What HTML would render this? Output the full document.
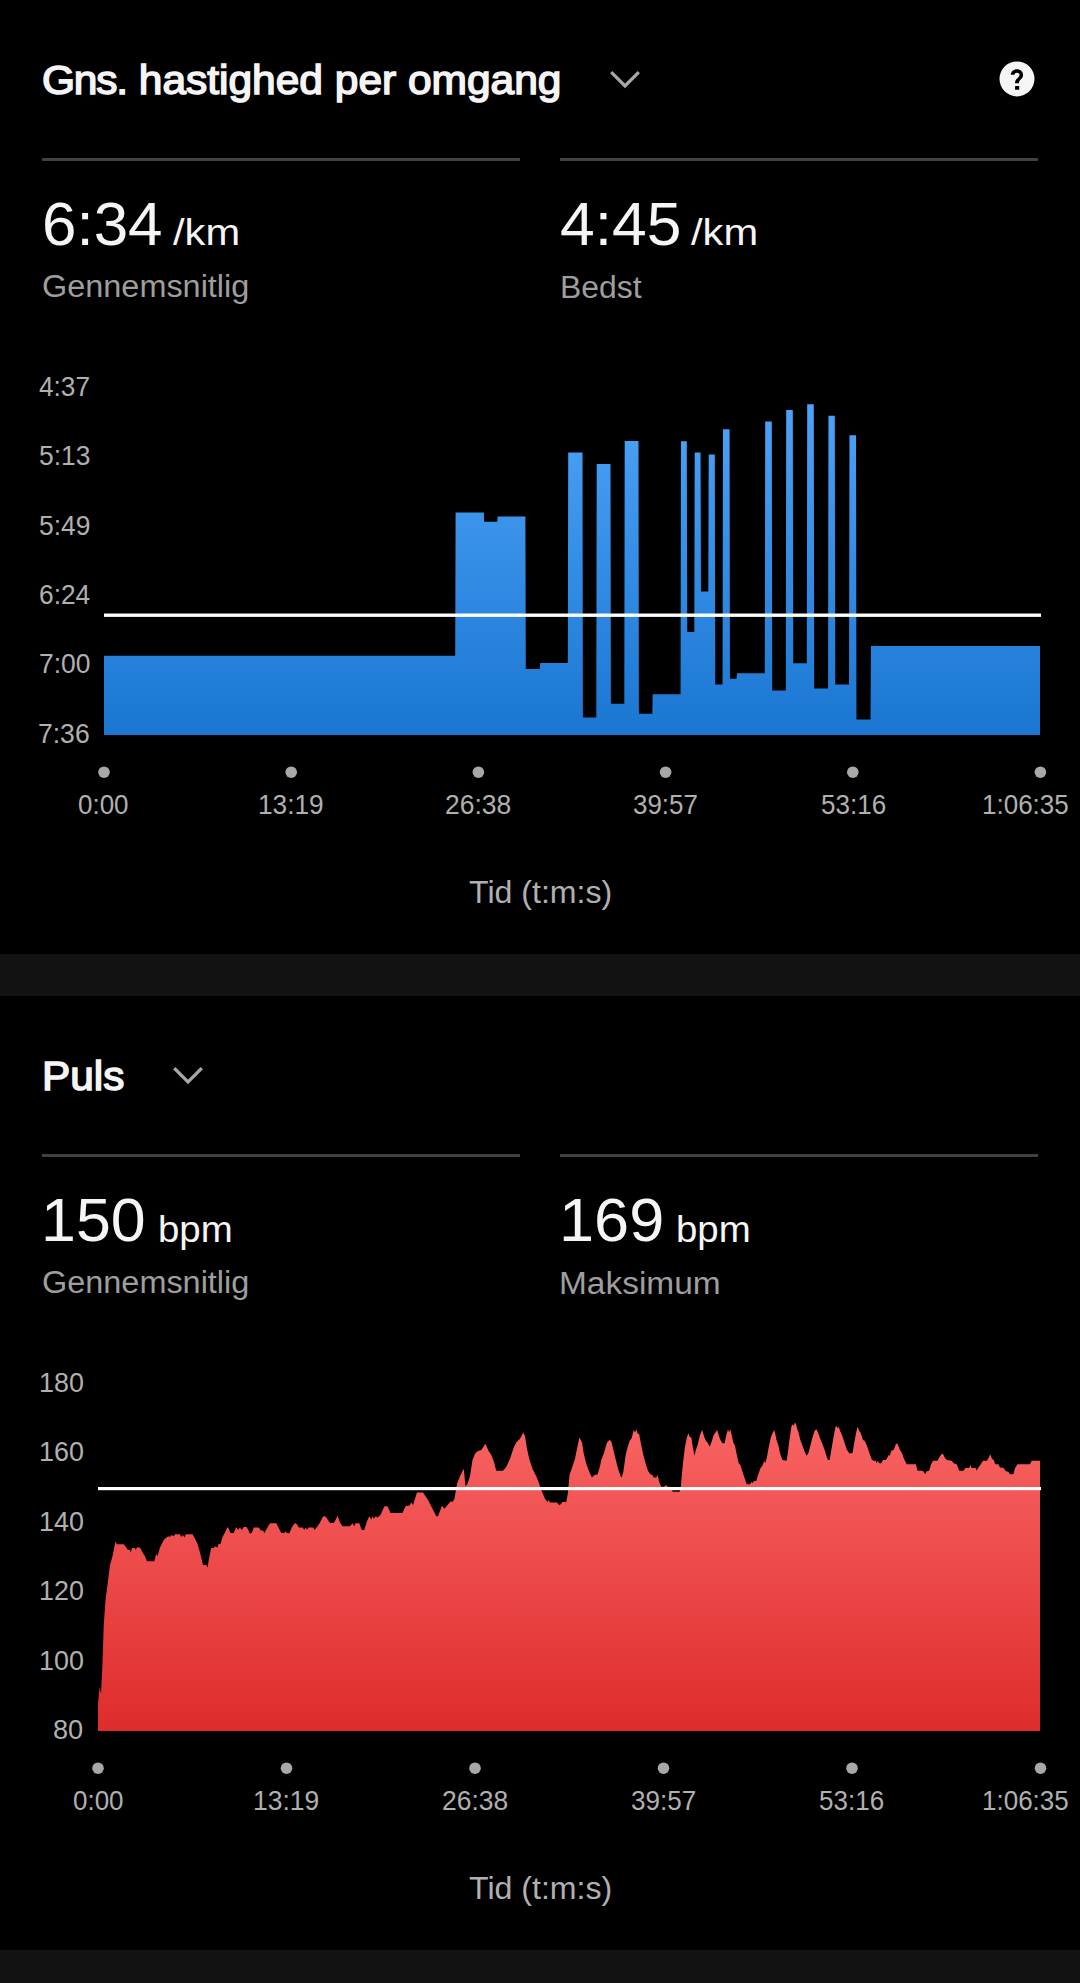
<!DOCTYPE html>
<html lang="da">
<head>
<meta charset="utf-8">
<title>Gns. hastighed per omgang / Puls</title>
<style>
html,body{margin:0;padding:0;background:#000;}
body{width:1080px;height:1983px;position:relative;overflow:hidden;font-family:"Liberation Sans",sans-serif;}
.tx{position:absolute;white-space:nowrap;transform-origin:0 50%;font-weight:400;}
.ttl{-webkit-text-stroke:1.5px #f5f5f5;}
.g{letter-spacing:-1.1px;}
.gap{position:absolute;left:0;width:1080px;background:#121212;}
.rule{position:absolute;height:3px;background:#424242;}
svg{position:absolute;left:0;top:0;}
</style>
</head>
<body>
<div class="gap" style="top:954px;height:42px"></div>
<div class="gap" style="top:1950px;height:33px"></div>
<div class="rule" style="left:42px;top:158px;width:478px"></div>
<div class="rule" style="left:560px;top:158px;width:478px"></div>
<div class="rule" style="left:42px;top:1154px;width:478px"></div>
<div class="rule" style="left:560px;top:1154px;width:478px"></div>
<svg width="1080" height="1983" viewBox="0 0 1080 1983">
<defs>
<linearGradient id="gb" gradientUnits="userSpaceOnUse" x1="0" y1="404" x2="0" y2="735"><stop offset="0" stop-color="#4da3f7"/><stop offset="1" stop-color="#1a76d2"/></linearGradient>
<linearGradient id="gr" gradientUnits="userSpaceOnUse" x1="0" y1="1420" x2="0" y2="1731"><stop offset="0" stop-color="#f96464"/><stop offset="1" stop-color="#df2c2c"/></linearGradient>
</defs>
<path d="M611.2 72.2 L625 86 L638.8 72.2" fill="none" stroke="#a8a8a8" stroke-width="3.2"/>
<path d="M174.2 1068.2 L188 1082 L201.8 1068.2" fill="none" stroke="#a8a8a8" stroke-width="3.2"/>
<g transform="translate(987 50) scale(0.055556)"><path fill="#f5f5f5" fill-rule="evenodd" d="M540 205 A315 315 0 1 0 540 835 A315 315 0 1 0 540 205 Z M430 445 C430 385 480 345 540 345 C605 345 650 390 650 450 C650 500 615 525 595 545 C580 560 575 575 575 600 L505 600 C505 560 515 540 540 515 C565 492 585 480 585 452 C585 425 565 410 540 410 C515 410 497 425 495 445 Z M505 650 H580 V715 H505 Z"/></g>
<path fill="url(#gb)" d="M104.00 735.00 L104.00 655.75 L455.20 655.75 L455.60 512.50 L483.80 512.50 L484.20 521.75 L497.30 521.75 L497.70 516.50 L525.40 516.50 L525.80 669.00 L539.80 669.00 L540.20 663.00 L567.80 663.00 L568.20 452.50 L582.50 452.50 L582.90 717.50 L596.30 717.50 L596.70 464.00 L610.50 464.00 L610.90 703.75 L624.30 703.75 L624.70 441.00 L638.50 441.00 L638.90 713.75 L652.30 713.75 L652.70 694.25 L680.55 694.25 L680.95 441.25 L686.80 441.25 L687.20 632.00 L694.30 632.00 L694.70 452.50 L700.55 452.50 L700.95 591.50 L708.30 591.50 L708.70 454.50 L714.80 454.50 L715.20 684.50 L722.55 684.50 L722.95 429.25 L729.55 429.25 L729.95 678.75 L736.55 678.75 L736.95 673.25 L764.80 673.25 L765.20 421.50 L771.80 421.50 L772.20 690.50 L785.80 690.50 L786.20 410.00 L792.80 410.00 L793.20 663.25 L806.80 663.25 L807.20 404.25 L813.80 404.25 L814.20 688.50 L828.05 688.50 L828.45 415.75 L834.80 415.75 L835.20 684.50 L849.05 684.50 L849.45 435.25 L856.05 435.25 L856.45 719.50 L870.55 719.50 L870.95 646.00 L1040.00 646.00 L1040.00 735.00Z"/>
<rect x="104" y="613.5" width="937" height="3.4" fill="#fff"/>
<g fill="#a8a8a8"><circle cx="104.0" cy="772.2" r="5.8"/><circle cx="291.2" cy="772.2" r="5.8"/><circle cx="478.4" cy="772.2" r="5.8"/><circle cx="665.6" cy="772.2" r="5.8"/><circle cx="852.8" cy="772.2" r="5.8"/><circle cx="1040.4" cy="772.2" r="5.8"/></g>
<path fill="url(#gr)" d="M98.00 1731.00 L98.00 1703.75 L99.50 1687.50 L101.00 1693.75 L102.50 1662.50 L103.75 1625.00 L105.50 1600.00 L107.50 1585.00 L110.00 1565.00 L112.50 1556.25 L115.00 1543.75 L115.75 1541.25 L116.75 1544.25 L123.75 1544.25 L126.25 1547.50 L128.00 1550.00 L130.00 1550.00 L130.75 1552.50 L132.00 1548.00 L135.00 1548.00 L135.75 1550.00 L136.75 1547.50 L140.00 1547.50 L142.50 1552.50 L145.00 1556.25 L147.00 1561.25 L154.25 1561.25 L156.25 1553.75 L157.50 1556.25 L160.00 1547.50 L163.75 1540.00 L166.25 1537.50 L168.75 1536.25 L170.00 1537.00 L171.25 1535.00 L173.75 1536.25 L175.00 1534.25 L180.00 1534.25 L181.25 1537.00 L183.00 1535.00 L184.50 1537.50 L185.75 1534.25 L192.50 1534.25 L195.00 1538.75 L197.50 1543.75 L200.00 1552.50 L203.00 1565.00 L206.25 1565.00 L207.50 1567.50 L208.75 1560.00 L211.25 1548.00 L213.75 1548.00 L215.00 1546.25 L217.50 1547.50 L218.75 1543.75 L220.50 1544.25 L222.50 1537.00 L225.00 1532.50 L227.50 1527.00 L228.75 1528.75 L230.50 1533.00 L233.75 1533.00 L236.25 1527.00 L238.00 1530.00 L240.00 1527.50 L241.75 1530.00 L243.75 1527.00 L246.75 1527.00 L250.00 1533.75 L252.00 1532.50 L253.75 1527.50 L258.75 1527.50 L260.75 1530.50 L263.25 1530.50 L264.25 1533.25 L267.50 1527.50 L270.00 1523.25 L276.25 1523.25 L278.75 1528.00 L281.25 1533.00 L284.50 1533.00 L285.75 1531.25 L287.00 1533.25 L289.25 1533.25 L292.50 1526.25 L295.00 1523.00 L297.00 1524.25 L298.75 1527.50 L302.50 1527.50 L304.50 1530.00 L305.50 1527.50 L307.00 1529.50 L308.75 1527.50 L313.25 1527.50 L314.50 1530.00 L317.50 1526.25 L320.00 1522.50 L322.50 1517.50 L324.25 1515.75 L326.25 1517.50 L330.00 1523.00 L333.75 1523.00 L335.50 1520.00 L337.50 1515.75 L340.00 1522.50 L342.50 1526.25 L349.50 1526.25 L350.00 1526.25 L352.50 1523.25 L354.25 1526.25 L355.50 1523.25 L359.25 1523.25 L361.75 1530.00 L364.25 1530.00 L367.00 1521.25 L369.25 1516.25 L371.25 1519.50 L372.50 1516.25 L373.75 1518.75 L375.75 1516.25 L377.50 1517.50 L380.50 1515.00 L384.50 1506.25 L387.50 1506.25 L390.50 1513.00 L402.50 1513.00 L405.50 1506.25 L409.50 1505.50 L411.25 1502.50 L413.00 1505.00 L417.00 1492.50 L423.00 1492.50 L428.00 1500.00 L432.50 1508.75 L436.25 1516.25 L438.00 1516.25 L442.00 1505.75 L444.50 1508.75 L447.50 1505.00 L450.75 1501.25 L452.50 1502.00 L454.50 1498.75 L457.00 1483.75 L460.00 1476.25 L463.00 1470.00 L463.75 1468.75 L465.50 1486.25 L467.50 1483.75 L470.00 1476.25 L472.50 1460.00 L475.00 1453.75 L477.50 1451.25 L481.25 1450.00 L485.50 1443.75 L488.75 1451.25 L491.25 1455.00 L493.75 1461.25 L496.25 1470.75 L503.00 1470.75 L506.25 1467.00 L510.00 1458.75 L513.75 1447.50 L516.25 1442.50 L520.00 1438.75 L523.25 1432.50 L525.00 1436.25 L527.00 1448.75 L529.50 1460.00 L532.50 1468.75 L536.25 1476.25 L538.75 1482.50 L541.25 1490.00 L545.00 1498.75 L547.50 1502.00 L548.75 1500.00 L550.00 1502.50 L557.00 1502.50 L559.50 1505.50 L562.50 1502.00 L566.25 1502.00 L568.00 1492.50 L569.50 1475.00 L572.50 1466.25 L575.00 1458.75 L578.00 1443.75 L579.50 1437.50 L582.00 1442.50 L583.75 1453.75 L586.25 1463.75 L589.50 1472.50 L592.00 1477.50 L594.50 1475.00 L597.50 1474.50 L600.00 1466.25 L601.25 1460.00 L603.75 1453.75 L607.00 1442.50 L609.50 1440.00 L610.00 1440.00 L611.67 1442.50 L614.17 1453.33 L617.50 1466.67 L620.33 1475.83 L621.67 1477.50 L623.33 1471.67 L625.83 1454.17 L627.50 1447.50 L629.67 1440.83 L631.67 1438.33 L633.67 1430.00 L635.00 1432.50 L636.33 1429.17 L637.50 1433.33 L639.17 1434.17 L640.83 1443.33 L643.33 1455.00 L645.83 1464.17 L648.00 1470.83 L650.33 1474.17 L652.50 1475.00 L653.67 1477.50 L656.33 1477.50 L657.50 1475.00 L659.17 1481.67 L661.17 1486.67 L664.17 1486.67 L665.83 1485.00 L667.50 1486.67 L671.67 1487.00 L672.50 1491.67 L679.67 1491.67 L680.83 1486.67 L682.00 1473.33 L683.33 1460.00 L685.00 1446.67 L686.67 1438.33 L688.33 1433.33 L689.67 1436.67 L691.33 1437.50 L692.83 1447.50 L694.50 1455.83 L695.83 1450.00 L697.83 1444.17 L700.00 1435.00 L702.17 1429.67 L704.17 1436.67 L705.83 1440.83 L707.50 1442.50 L709.67 1446.67 L711.67 1441.67 L713.67 1435.00 L715.00 1433.33 L717.17 1430.00 L719.17 1436.67 L720.83 1440.83 L722.50 1443.33 L724.67 1443.33 L726.33 1435.00 L728.00 1429.17 L729.17 1432.50 L730.33 1429.17 L731.67 1435.00 L733.33 1442.50 L735.00 1445.83 L736.67 1454.17 L738.67 1463.33 L740.33 1465.00 L742.50 1471.67 L744.67 1478.33 L746.67 1484.17 L750.00 1484.17 L751.67 1481.67 L752.50 1483.33 L753.67 1481.33 L756.33 1480.83 L757.50 1476.67 L759.17 1471.67 L760.83 1467.50 L762.50 1465.83 L764.17 1460.83 L765.33 1463.33 L767.00 1456.67 L768.67 1447.50 L770.83 1437.50 L772.50 1433.33 L774.17 1430.00 L775.33 1434.17 L776.67 1440.83 L778.33 1445.00 L780.00 1453.33 L782.50 1460.00 L786.67 1460.83 L788.00 1451.67 L789.17 1441.67 L790.00 1436.67 L791.33 1426.67 L792.50 1424.17 L793.67 1425.83 L794.67 1423.33 L795.83 1423.33 L797.00 1428.33 L798.33 1431.67 L800.33 1440.00 L802.50 1445.83 L804.67 1451.67 L806.67 1455.83 L808.33 1453.33 L810.33 1445.83 L812.50 1437.50 L814.67 1430.83 L816.33 1429.17 L818.00 1432.50 L820.00 1438.33 L822.50 1444.17 L824.67 1450.00 L826.67 1456.67 L828.00 1460.00 L829.67 1460.00 L831.33 1450.00 L833.33 1438.33 L835.33 1427.50 L836.33 1425.83 L837.50 1428.33 L838.67 1426.67 L840.00 1430.83 L842.00 1435.00 L844.17 1441.67 L846.67 1449.17 L849.17 1453.33 L852.50 1453.33 L854.17 1443.33 L855.83 1434.17 L857.50 1426.67 L859.17 1430.83 L860.83 1433.33 L863.00 1440.00 L864.67 1440.83 L866.67 1445.00 L869.17 1452.50 L871.67 1459.17 L873.33 1460.83 L875.83 1460.83 L876.67 1463.33 L877.83 1460.83 L879.17 1463.33 L881.33 1463.33 L883.00 1460.00 L885.83 1460.00 L887.50 1457.50 L888.67 1455.00 L889.67 1455.83 L891.33 1450.83 L893.67 1450.00 L895.83 1444.17 L897.00 1443.33 L898.33 1445.83 L900.00 1450.00 L902.00 1453.33 L904.17 1459.17 L906.67 1464.17 L915.83 1464.17 L917.50 1470.83 L922.50 1470.83 L924.17 1472.50 L925.33 1474.17 L926.67 1471.33 L929.17 1470.83 L930.83 1465.00 L933.00 1460.83 L937.50 1460.83 L939.17 1457.50 L941.33 1454.17 L943.00 1453.67 L944.67 1457.50 L946.67 1460.00 L951.67 1460.83 L953.67 1463.33 L956.67 1464.17 L959.17 1470.83 L963.67 1470.83 L965.33 1468.00 L969.17 1468.00 L970.33 1465.00 L971.67 1468.00 L975.83 1468.00 L976.67 1470.83 L978.33 1467.50 L980.83 1464.17 L983.00 1460.83 L987.00 1460.83 L989.17 1456.67 L990.33 1454.17 L991.67 1458.33 L994.17 1460.83 L995.00 1464.17 L998.33 1464.17 L1000.00 1467.50 L1003.67 1468.00 L1005.83 1471.33 L1008.33 1471.67 L1010.00 1474.17 L1013.33 1474.17 L1015.00 1468.33 L1017.50 1464.17 L1030.00 1464.17 L1031.67 1460.83 L1040.00 1460.83 L1040.00 1731.00Z"/>
<rect x="98" y="1487" width="943" height="3.2" fill="#fff"/>
<g fill="#a8a8a8"><circle cx="98.0" cy="1768.2" r="5.8"/><circle cx="286.5" cy="1768.2" r="5.8"/><circle cx="475.0" cy="1768.2" r="5.8"/><circle cx="663.5" cy="1768.2" r="5.8"/><circle cx="852.0" cy="1768.2" r="5.8"/><circle cx="1040.5" cy="1768.2" r="5.8"/></g>
</svg>
<div id="t1" class="tx ttl" style="left:42.42px;top:61.00px;font-size:39.80px;line-height:39.80px;color:#f5f5f5;transform:scaleX(1.0671)"><span class="g">Gns.</span> hastighed per omgang</div>
<div id="v1" class="tx" style="left:42.47px;top:193.00px;font-size:61.40px;line-height:61.40px;color:#f5f5f5;transform:scaleX(1.0087)">6:34</div>
<div id="u1" class="tx" style="left:173.00px;top:215.00px;font-size:36.50px;line-height:36.50px;color:#f5f5f5;transform:scaleX(1.1416)">/km</div>
<div id="s1" class="tx" style="left:42.18px;top:271.00px;font-size:31.00px;line-height:31.00px;color:#9e9e9e;transform:scaleX(1.0462)">Gennemsnitlig</div>
<div id="v2" class="tx" style="left:559.58px;top:193.00px;font-size:61.40px;line-height:61.40px;color:#f5f5f5;transform:scaleX(1.0164)">4:45</div>
<div id="u2" class="tx" style="left:691.00px;top:215.00px;font-size:36.50px;line-height:36.50px;color:#f5f5f5;transform:scaleX(1.1416)">/km</div>
<div id="s2" class="tx" style="left:559.68px;top:272.00px;font-size:31.00px;line-height:31.00px;color:#9e9e9e;transform:scaleX(1.0283)">Bedst</div>
<div id="y1_0" class="tx" style="left:39.17px;top:374.00px;font-size:27.00px;line-height:27.00px;color:#b0b0b0;transform:scaleX(0.9695)">4:37</div>
<div id="y1_1" class="tx" style="left:38.67px;top:443.00px;font-size:27.00px;line-height:27.00px;color:#b0b0b0;transform:scaleX(0.9776)">5:13</div>
<div id="y1_2" class="tx" style="left:38.67px;top:513.00px;font-size:27.00px;line-height:27.00px;color:#b0b0b0;transform:scaleX(0.9791)">5:49</div>
<div id="y1_3" class="tx" style="left:39.04px;top:582.00px;font-size:27.00px;line-height:27.00px;color:#b0b0b0;transform:scaleX(0.9743)">6:24</div>
<div id="y1_4" class="tx" style="left:39.02px;top:651.00px;font-size:27.00px;line-height:27.00px;color:#b0b0b0;transform:scaleX(0.9791)">7:00</div>
<div id="y1_5" class="tx" style="left:38.42px;top:721.00px;font-size:27.00px;line-height:27.00px;color:#b0b0b0;transform:scaleX(0.9825)">7:36</div>
<div id="x1_0" class="tx" style="left:77.91px;top:792.00px;font-size:27.00px;line-height:27.00px;color:#b0b0b0;transform:scaleX(0.9610)">0:00</div>
<div id="x1_1" class="tx" style="left:258.06px;top:792.00px;font-size:27.00px;line-height:27.00px;color:#b0b0b0;transform:scaleX(0.9720)">13:19</div>
<div id="x1_2" class="tx" style="left:445.19px;top:792.00px;font-size:27.00px;line-height:27.00px;color:#b0b0b0;transform:scaleX(0.9818)">26:38</div>
<div id="x1_3" class="tx" style="left:633.04px;top:792.00px;font-size:27.00px;line-height:27.00px;color:#b0b0b0;transform:scaleX(0.9609)">39:57</div>
<div id="x1_4" class="tx" style="left:820.69px;top:792.00px;font-size:27.00px;line-height:27.00px;color:#b0b0b0;transform:scaleX(0.9644)">53:16</div>
<div id="x1_5" class="tx" style="left:982.23px;top:792.00px;font-size:27.00px;line-height:27.00px;color:#b0b0b0;transform:scaleX(0.9632)">1:06:35</div>
<div id="a1" class="tx" style="left:469.29px;top:877.00px;font-size:31.20px;line-height:31.20px;color:#b0b0b0;transform:scaleX(1.0295)">Tid (t:m:s)</div>
<div id="t2" class="tx ttl" style="left:41.84px;top:1057.00px;font-size:39.80px;line-height:39.80px;color:#f5f5f5;transform:scaleX(1.0640)">Puls</div>
<div id="v3" class="tx" style="left:41.49px;top:1189.00px;font-size:61.40px;line-height:61.40px;color:#f5f5f5;transform:scaleX(1.0218)">150</div>
<div id="u3" class="tx" style="left:157.63px;top:1212.00px;font-size:36.50px;line-height:36.50px;color:#f5f5f5;transform:scaleX(1.0526)">bpm</div>
<div id="s3" class="tx" style="left:42.18px;top:1267.00px;font-size:31.00px;line-height:31.00px;color:#9e9e9e;transform:scaleX(1.0462)">Gennemsnitlig</div>
<div id="v4" class="tx" style="left:559.46px;top:1189.00px;font-size:61.40px;line-height:61.40px;color:#f5f5f5;transform:scaleX(1.0274)">169</div>
<div id="u4" class="tx" style="left:675.63px;top:1212.00px;font-size:36.50px;line-height:36.50px;color:#f5f5f5;transform:scaleX(1.0526)">bpm</div>
<div id="s4" class="tx" style="left:559.05px;top:1268.00px;font-size:31.00px;line-height:31.00px;color:#9e9e9e;transform:scaleX(1.0789)">Maksimum</div>
<div id="y2_0" class="tx" style="left:38.67px;top:1370.00px;font-size:27.00px;line-height:27.00px;color:#b0b0b0;transform:scaleX(0.9951)">180</div>
<div id="y2_1" class="tx" style="left:38.67px;top:1439.00px;font-size:27.00px;line-height:27.00px;color:#b0b0b0;transform:scaleX(0.9951)">160</div>
<div id="y2_2" class="tx" style="left:38.67px;top:1509.00px;font-size:27.00px;line-height:27.00px;color:#b0b0b0;transform:scaleX(0.9951)">140</div>
<div id="y2_3" class="tx" style="left:38.67px;top:1578.00px;font-size:27.00px;line-height:27.00px;color:#b0b0b0;transform:scaleX(0.9951)">120</div>
<div id="y2_4" class="tx" style="left:38.67px;top:1648.00px;font-size:27.00px;line-height:27.00px;color:#b0b0b0;transform:scaleX(0.9951)">100</div>
<div id="y2_5" class="tx" style="left:53.32px;top:1717.00px;font-size:27.00px;line-height:27.00px;color:#b0b0b0;transform:scaleX(1.0061)">80</div>
<div id="x2_0" class="tx" style="left:72.69px;top:1788.00px;font-size:27.00px;line-height:27.00px;color:#b0b0b0;transform:scaleX(0.9624)">0:00</div>
<div id="x2_1" class="tx" style="left:253.04px;top:1788.00px;font-size:27.00px;line-height:27.00px;color:#b0b0b0;transform:scaleX(0.9798)">13:19</div>
<div id="x2_2" class="tx" style="left:441.77px;top:1788.00px;font-size:27.00px;line-height:27.00px;color:#b0b0b0;transform:scaleX(0.9808)">26:38</div>
<div id="x2_3" class="tx" style="left:631.07px;top:1788.00px;font-size:27.00px;line-height:27.00px;color:#b0b0b0;transform:scaleX(0.9644)">39:57</div>
<div id="x2_4" class="tx" style="left:819.40px;top:1788.00px;font-size:27.00px;line-height:27.00px;color:#b0b0b0;transform:scaleX(0.9640)">53:16</div>
<div id="x2_5" class="tx" style="left:982.23px;top:1788.00px;font-size:27.00px;line-height:27.00px;color:#b0b0b0;transform:scaleX(0.9632)">1:06:35</div>
<div id="a2" class="tx" style="left:469.29px;top:1873.00px;font-size:31.20px;line-height:31.20px;color:#b0b0b0;transform:scaleX(1.0295)">Tid (t:m:s)</div>
</body>
</html>
